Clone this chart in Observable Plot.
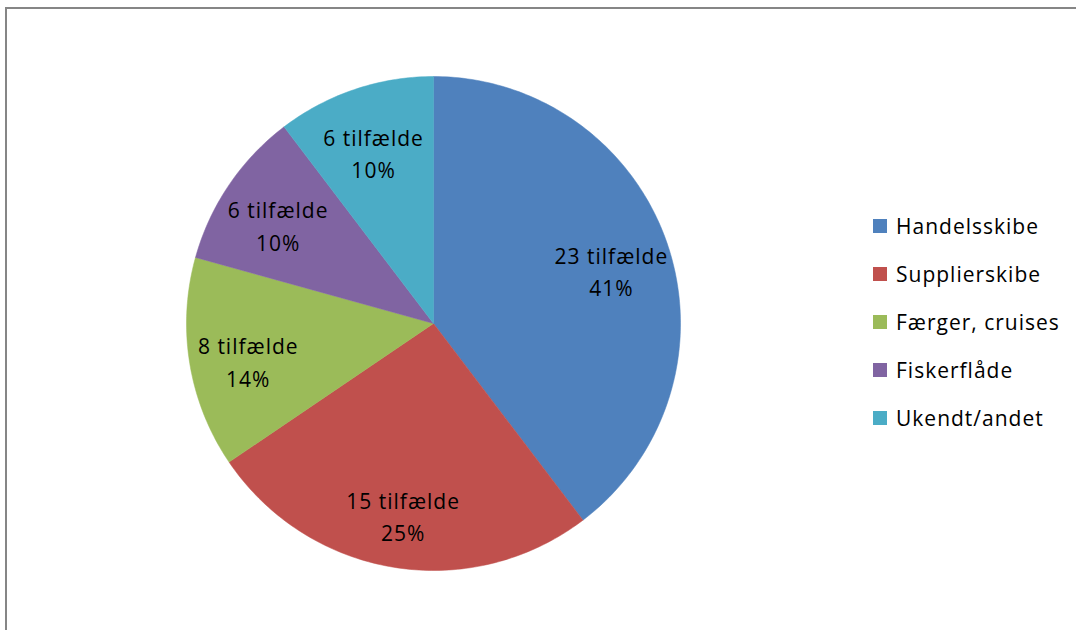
<!DOCTYPE html>
<html>
<head>
<meta charset="utf-8">
<script src="https://cdn.jsdelivr.net/npm/d3@7"></script>
<script src="https://cdn.jsdelivr.net/npm/@observablehq/plot@0.6"></script>
<style>
  html, body { margin: 0; padding: 0; background: #fff; }
  #wrap { position: relative; width: 1076px; height: 630px; overflow: hidden; font-family: "Open Sans", "Liberation Sans", sans-serif; }
  #frame { position: absolute; left: 5px; top: 7px; width: 1200px; height: 700px; border-top: 2px solid #868686; border-left: 2px solid #868686; box-sizing: border-box; }
  #chart { position: absolute; left: 0; top: 0; }
  #legend { position: absolute; left: 873px; top: 202px; }
  .item { display: flex; align-items: center; height: 48px; font-size: 21px; letter-spacing: 1px; color: #000; }
  .sw { width: 14px; height: 14px; margin-right: 9px; }
</style>
</head>
<body>
<div id="wrap">
  <div id="frame"></div>
  <div id="chart"></div>
  <div id="legend"></div>
</div>
<script>
const categories = ["Handelsskibe", "Supplierskibe", "Færger, cruises", "Fiskerflåde", "Ukendt/andet"];
const counts = [23, 15, 8, 6, 6];
const caseLabels = ["23 tilfælde", "15 tilfælde", "8 tilfælde", "6 tilfælde", "6 tilfælde"];
const percentLabels = ["41%", "25%", "14%", "10%", "10%"];
const colors = ["#4F81BD", "#C0504D", "#9BBB59", "#8064A2", "#4BACC6"];

// Build slice outlines (angles clockwise from top) from the counts
const total = d3.sum(counts);
const slices = [];
const labels = [];
let acc = 0;
categories.forEach((name, i) => {
  const a0 = acc / total * 2 * Math.PI;
  acc += counts[i];
  const a1 = acc / total * 2 * Math.PI;
  const steps = Math.max(8, Math.ceil((a1 - a0) / (Math.PI / 180)));
  slices.push({name, x: 0, y: 0});
  for (let k = 0; k <= steps; k++) {
    const a = a0 + (a1 - a0) * k / steps;
    slices.push({name, x: Math.sin(a), y: Math.cos(a)});
  }
  slices.push({name, x: 0, y: 0});
  const am = (a0 + a1) / 2;
  const lr = 0.76;
  labels.push({name, x: lr * Math.sin(am), y: lr * Math.cos(am), text: caseLabels[i] + "\n" + percentLabels[i]});
});

const plot = Plot.plot({
  width: 1076,
  height: 630,
  marginLeft: 186,
  marginRight: 396,
  marginTop: 76,
  marginBottom: 60,
  x: {domain: [-1, 1], axis: null},
  y: {domain: [-1, 1], axis: null},
  color: {domain: categories, range: colors},
  style: {fontFamily: "'Open Sans', 'Liberation Sans', sans-serif", background: "transparent", letterSpacing: "1px"},
  marks: [
    Plot.line(slices, {x: "x", y: "y", z: "name", fill: "name", stroke: "name", strokeWidth: 0.5, curve: "linear"}),
    Plot.text(labels, {x: "x", y: "y", text: "text", fontSize: 21, lineHeight: 1.55, dy: 6, fill: "#000"})
  ]
});
document.getElementById("chart").appendChild(plot);

const legend = document.getElementById("legend");
categories.forEach((name, i) => {
  const row = document.createElement("div");
  row.className = "item";
  const sw = document.createElement("div");
  sw.className = "sw";
  sw.style.background = colors[i];
  const t = document.createElement("span");
  t.textContent = name;
  row.appendChild(sw);
  row.appendChild(t);
  legend.appendChild(row);
});
</script>
</body>
</html>
